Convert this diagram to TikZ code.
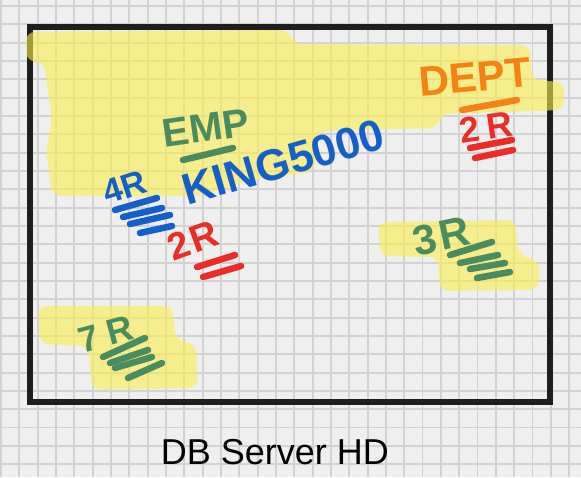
\documentclass[tikz,border=0pt]{standalone}
\usepackage{fontspec}
\setmainfont{Liberation Sans}
\usepackage{tikz}
\usetikzlibrary{positioning}
\definecolor{PaperGrey}{HTML}{EFEFEF}
\definecolor{GridGrey}{HTML}{D2D2D2}
\definecolor{FrameBlack}{HTML}{1E1E1E}
\definecolor{HiYellow}{RGB}{252,237,74}
\definecolor{InkGreen}{HTML}{4B8C5F}
\definecolor{InkBlue}{HTML}{1560C8}
\definecolor{InkRed}{HTML}{EB2D28}
\definecolor{InkOrange}{HTML}{F58214}

\begin{document}
\begin{tikzpicture}[
        x=1pt, y=-1pt,
        pen/.style={font=\bfseries\fontsize{#1}{#1}\selectfont, inner sep=0pt},
        tally/.style={line width=6.5pt, line cap=round},
        hl/.style={fill=HiYellow, rounded corners=9pt},
        frame/.style={draw=FrameBlack, line width=6pt, inner sep=0pt},
        caption/.style={font=\fontsize{36}{36}\selectfont, inner sep=0pt},
    ]
    \useasboundingbox (0,0) rectangle (581,477);
    \fill[PaperGrey] (0,0) rectangle (581,477);

    % squared paper
    \foreach \k in {0,...,31} {
        \draw[GridGrey, line width=1.8pt] (1+18.33*\k,0) -- (1+18.33*\k,477);
    }
    \foreach \k in {0,...,25} {
        \draw[GridGrey, line width=1.8pt] (0,6+18.33*\k) -- (581,6+18.33*\k);
    }

    \node[frame, minimum width=520pt, minimum height=375pt] (server) at (290,214.5) {};
    \node[caption, below=34pt of server, xshift=-15pt] (title) {DB Server HD};

    % highlighter
    \begin{scope}[transparency group, opacity=0.6]
        \path[hl] (26,32) -- (290,30) -- (292,44) -- (530,45) -- (532,80)
            -- (564,82) -- (564,110) -- (440,114) -- (438,128) -- (318,131)
            -- (314,172) -- (250,180) -- (200,196) -- (52,196) -- (46,150)
            -- (52,120) -- (44,62) -- (26,61) -- cycle;
        \path[hl] (378,222) -- (516,220) -- (518,254) -- (540,262)
            -- (538,290) -- (440,291) -- (438,257) -- (380,256) -- cycle;
        \path[hl] (38,306) -- (172,306) -- (176,340) -- (196,344)
            -- (198,388) -- (92,390) -- (88,346) -- (40,344) -- cycle;
    \end{scope}

    % EMP table
    \node[pen=40, InkGreen, rotate=8] (emp) at (206,128) {EMP};
    \draw[tally, InkGreen] (183,160) -- (233,148);
    \node[pen=44, InkBlue, rotate=16] (king) at (283,162) {KING5000};
    \node[pen=34, InkBlue, rotate=18] (fourR) at (125,187) {4R};
    \draw[tally, InkBlue] (115,210) -- (157,198);
    \draw[tally, InkBlue] (123,217) -- (162,208);
    \draw[tally, InkBlue] (130,224) -- (170,215);
    \draw[tally, InkBlue] (140,233) -- (172,226);
    \node[pen=38, InkRed, rotate=20] (twoRa) at (193,240) {2\hspace{2pt}R};
    \draw[tally, InkRed] (197,267) -- (235,255);
    \draw[tally, InkRed] (203,277) -- (241,266);

    % DEPT table
    \node[pen=42, InkOrange, rotate=5] (dept) at (475,77) {DEPT};
    \draw[tally, InkOrange] (462,110) -- (517,100);
    \node[pen=36, InkRed, rotate=8] (twoRb) at (486,127) {2\hspace{8pt}R};
    \draw[tally, InkRed] (470,148) -- (512,140);
    \draw[tally, InkRed] (475,158) -- (513,150);

    \node[pen=42, InkGreen, rotate=12] (threeR) at (441,236) {3\hspace{3pt}R};
    \draw[tally, InkGreen] (450,255) -- (492,242);
    \draw[tally, InkGreen] (460,263) -- (498,255);
    \draw[tally, InkGreen] (470,269) -- (505,263);
    \draw[tally, InkGreen] (477,278) -- (510,272);

    \node[pen=36, InkGreen, rotate=15] (sevenR) at (106,334) {7\hspace{9pt}R};
    \draw[tally, InkGreen] (103,357) -- (145,338);
    \draw[tally, InkGreen] (110,363) -- (148,350);
    \draw[tally, InkGreen] (115,368) -- (152,357);
    \draw[tally, InkGreen] (128,378) -- (162,363);
\end{tikzpicture}
\end{document}
